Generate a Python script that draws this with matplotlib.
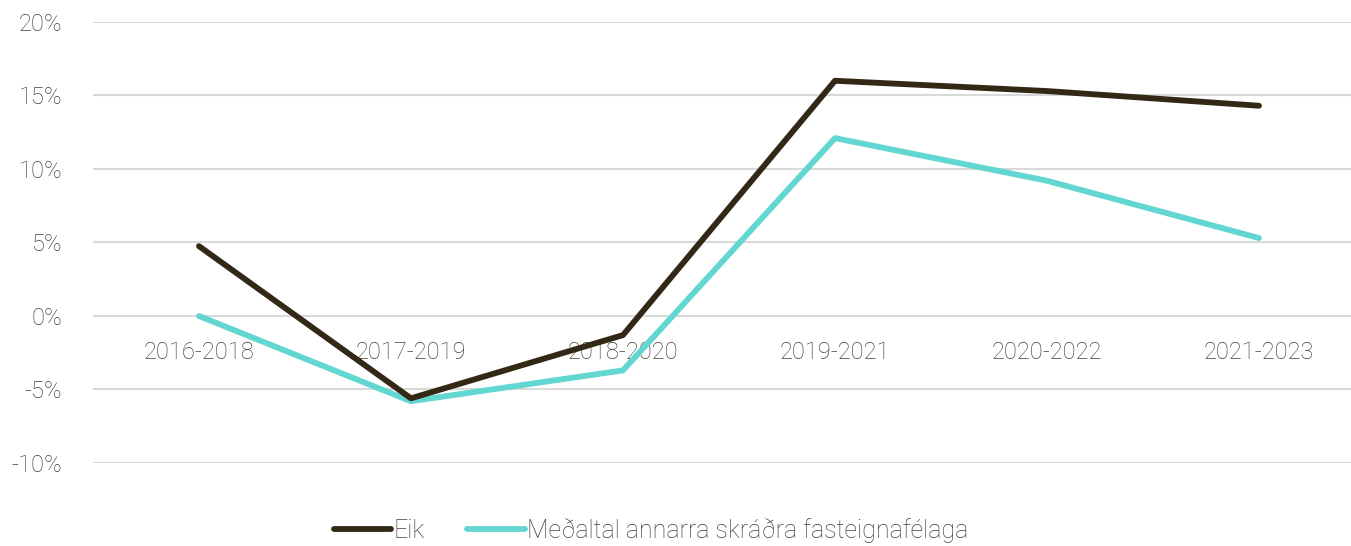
import numpy as np
import matplotlib.pyplot as plt

# Data
periods = ["2016-2018", "2017-2019", "2018-2020", "2019-2021", "2020-2022", "2021-2023"]
eik = [4.75, -5.6, -1.3, 16.0, 15.3, 14.3]
avg_others = [0.0, -5.8, -3.7, 12.1, 9.2, 5.3]
series_names = ["Eik", "Meðaltal annarra skráðra fasteignafélaga"]

text_color = "#463e33"
plt.rcParams['font.family'] = ['Roboto', 'DejaVu Sans']

x = np.arange(len(periods))

fig = plt.figure(figsize=(13.51, 5.46), dpi=100)
ax = fig.add_axes([0.0688, 0.152, 0.9312, 0.8078])

ax.plot(x, eik, color="#332816", lw=4.2, solid_capstyle="round", label=series_names[0], zorder=3)
ax.plot(x, avg_others, color="#62d6d0", lw=4.2, solid_capstyle="round", label=series_names[1], zorder=2)

ax.set_xlim(-0.5, 5.434)
ax.set_ylim(-10, 20)
ax.set_yticks(np.arange(-10, 21, 5))
ax.set_yticklabels([f"{v}%" for v in range(-10, 21, 5)])
ax.set_xticks(x)
ax.set_xticklabels(periods)

ax.grid(axis="y", color="#d9d9d9", lw=1.5)
ax.set_axisbelow(True)
for s in ax.spines.values():
    s.set_visible(False)
ax.spines["bottom"].set_position(("data", 0))

ax.tick_params(axis="x", length=0, pad=18, labelsize=17, labelcolor=text_color)
ax.tick_params(axis="y", length=0, pad=22, labelsize=17, labelcolor=text_color)
for lbl in ax.get_xticklabels() + ax.get_yticklabels():
    lbl.set_fontweight("light")

leg = fig.legend(loc="center", bbox_to_anchor=(0.482, 0.028), ncol=2, frameon=False,
                 fontsize=18, handlelength=2.3, handletextpad=0.1, columnspacing=1.7)
for t in leg.get_texts():
    t.set_color(text_color)
    t.set_fontweight("light")

fig.savefig("out.png", dpi=100)
